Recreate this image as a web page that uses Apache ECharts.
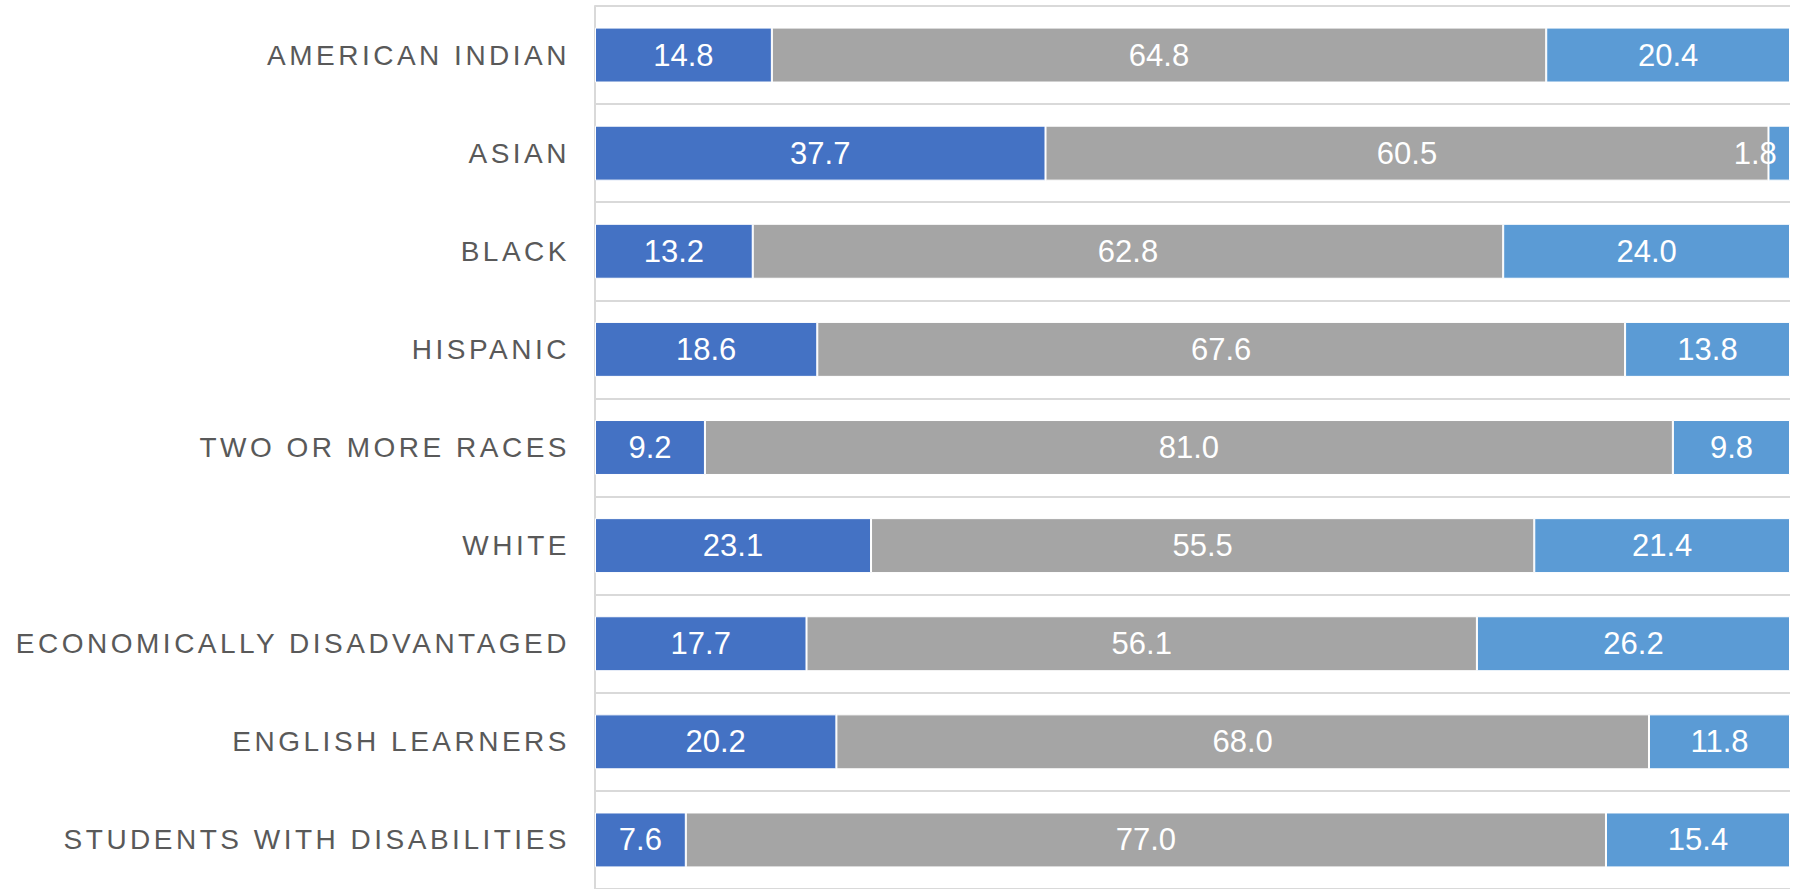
<!DOCTYPE html>
<html>
<head>
<meta charset="utf-8">
<script src="https://cdn.jsdelivr.net/npm/echarts@6/dist/echarts.min.js"></script>
<style>
  html, body { margin: 0; padding: 0; background: #fff; }
  #chart { width: 1796px; height: 889px; }
  /* spaced-out category labels on the left axis */
  #chart text[fill="#595959"], #chart text[fill="rgb(89,89,89)"] { letter-spacing: 3.5px; }
</style>
</head>
<body>
<div id="chart"></div>
<script>
const categories = [
  'AMERICAN INDIAN',
  'ASIAN',
  'BLACK',
  'HISPANIC',
  'TWO OR MORE RACES',
  'WHITE',
  'ECONOMICALLY DISADVANTAGED',
  'ENGLISH LEARNERS',
  'STUDENTS WITH DISABILITIES'
];
const levelLow  = [14.8, 37.7, 13.2, 18.6, 9.2, 23.1, 17.7, 20.2, 7.6];
const levelMid  = [64.8, 60.5, 62.8, 67.6, 81.0, 55.5, 56.1, 68.0, 77.0];
const levelHigh = [20.4, 1.8, 24.0, 13.8, 9.8, 21.4, 26.2, 11.8, 15.4];

const colors = ['#4472C4', '#A5A5A5', '#5B9BD5'];
const fontFamily = '"Liberation Sans", Arial, sans-serif';

function labelCfg() {
  return {
    show: true,
    position: 'inside',
    color: '#ffffff',
    fontSize: 31,
    fontFamily: fontFamily,
    formatter: p => p.value.toFixed(1)
  };
}

function makeSeries(name, values, color) {
  return {
    name: name,
    type: 'bar',
    stack: 'total',
    barCategoryGap: '44%',
    itemStyle: { color: color, borderColor: '#ffffff', borderWidth: 1 },
    label: labelCfg(),
    data: values.map(v => {
      const item = { value: v };
      // a very thin segment gets its label nudged left so it stays readable
      if (v < 5) item.label = { offset: [-24, 0] };
      return item;
    })
  };
}

const chart = echarts.init(document.getElementById('chart'), null, { renderer: 'svg' });
chart.setOption({
  animation: false,
  grid: { left: 595, right: 6, top: 6, height: 888 },
  xAxis: {
    type: 'value',
    min: 0,
    max: 100,
    show: false
  },
  yAxis: {
    type: 'category',
    data: categories,
    inverse: true,
    axisLine: { show: true, lineStyle: { color: '#d9d9d9', width: 2 } },
    axisTick: { show: false },
    splitLine: { show: true, lineStyle: { color: '#d9d9d9', width: 2 } },
    axisLabel: {
      color: '#595959',
      fontSize: 28,
      fontFamily: fontFamily,
      margin: 25
    }
  },
  series: [
    makeSeries('Level 1', levelLow, colors[0]),
    makeSeries('Level 2', levelMid, colors[1]),
    makeSeries('Level 3', levelHigh, colors[2])
  ]
});
</script>
</body>
</html>
